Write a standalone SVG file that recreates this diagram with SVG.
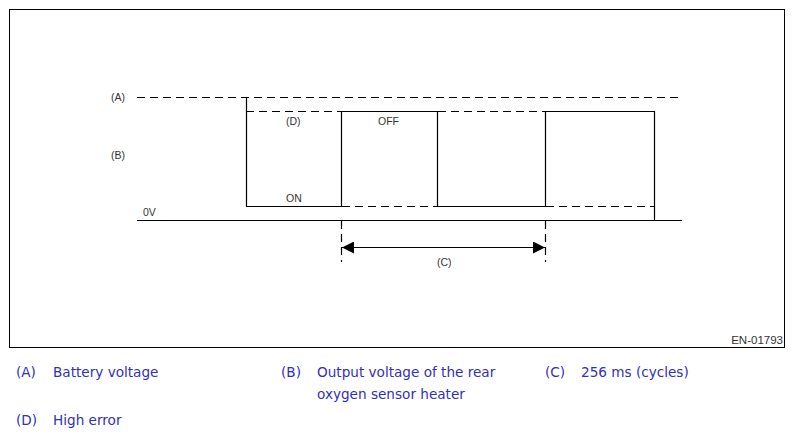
<svg xmlns="http://www.w3.org/2000/svg" width="795" height="437" viewBox="0 0 795 437">
<defs>
<style>
.ln{stroke:#000;stroke-width:1.2;fill:none}
.ds{stroke:#000;stroke-width:1.2;fill:none;stroke-dasharray:8,5}
.lb{font-family:"Liberation Sans",Arial,sans-serif;font-size:10.5px;fill:#333}
.lg{font-family:"DejaVu Sans",Verdana,sans-serif;font-size:13.6px;fill:#3030b8}
</style>
<marker id="ah" markerWidth="12" markerHeight="12" refX="12" refY="6" orient="auto-start-reverse" markerUnits="userSpaceOnUse">
<path d="M0,0 L12,6 L0,12 Z" fill="#000"/>
</marker>
</defs>
<rect x="0" y="0" width="795" height="437" fill="#fff"/>
<rect x="9.5" y="9.5" width="775" height="338" fill="none" stroke="#000" stroke-width="1"/>
<g id="connectors">
<line class="ds" x1="137" y1="97.5" x2="682" y2="97.5"/>
<line class="ln" x1="137" y1="220.5" x2="682" y2="220.5"/>
<path class="ln" d="M246.5,97 V206.5 H341.5 V111.5 H437.5 V206.5 H545.5 V111.5 H654.5 V220"/>
<line class="ds" x1="246" y1="111.5" x2="341" y2="111.5"/>
<line class="ds" x1="342" y1="206.5" x2="437" y2="206.5"/>
<line class="ds" x1="438" y1="111.5" x2="545" y2="111.5"/>
<line class="ds" x1="546" y1="206.5" x2="654" y2="206.5"/>
<line class="ds" x1="341.5" y1="221" x2="341.5" y2="262" stroke-dasharray="6,5"/>
<line class="ds" x1="545.5" y1="221" x2="545.5" y2="262" stroke-dasharray="6,5"/>
<line class="ln" x1="342" y1="247.5" x2="545" y2="247.5" marker-start="url(#ah)" marker-end="url(#ah)"/>
</g>
<g id="labels">
<text class="lb" x="111" y="101">(A)</text>
<text class="lb" x="111" y="159">(B)</text>
<text class="lb" x="286" y="125">(D)</text>
<text class="lb" x="378" y="125">OFF</text>
<text class="lb" x="286" y="202">ON</text>
<text class="lb" x="143" y="216">0V</text>
<text class="lb" x="437" y="266">(C)</text>
<text class="lb" x="783" y="344" text-anchor="end" style="font-size:11.5px">EN-01793</text>
</g>
<g id="legend">
<text class="lg" x="16" y="377">(A)</text>
<text class="lg" x="53" y="377">Battery voltage</text>
<text class="lg" x="281" y="377">(B)</text>
<text class="lg" x="317" y="377">Output voltage of the rear</text>
<text class="lg" x="317" y="399">oxygen sensor heater</text>
<text class="lg" x="545" y="377">(C)</text>
<text class="lg" x="581" y="377">256 ms (cycles)</text>
<text class="lg" x="16" y="425">(D)</text>
<text class="lg" x="53" y="425">High error</text>
</g>
</svg>
